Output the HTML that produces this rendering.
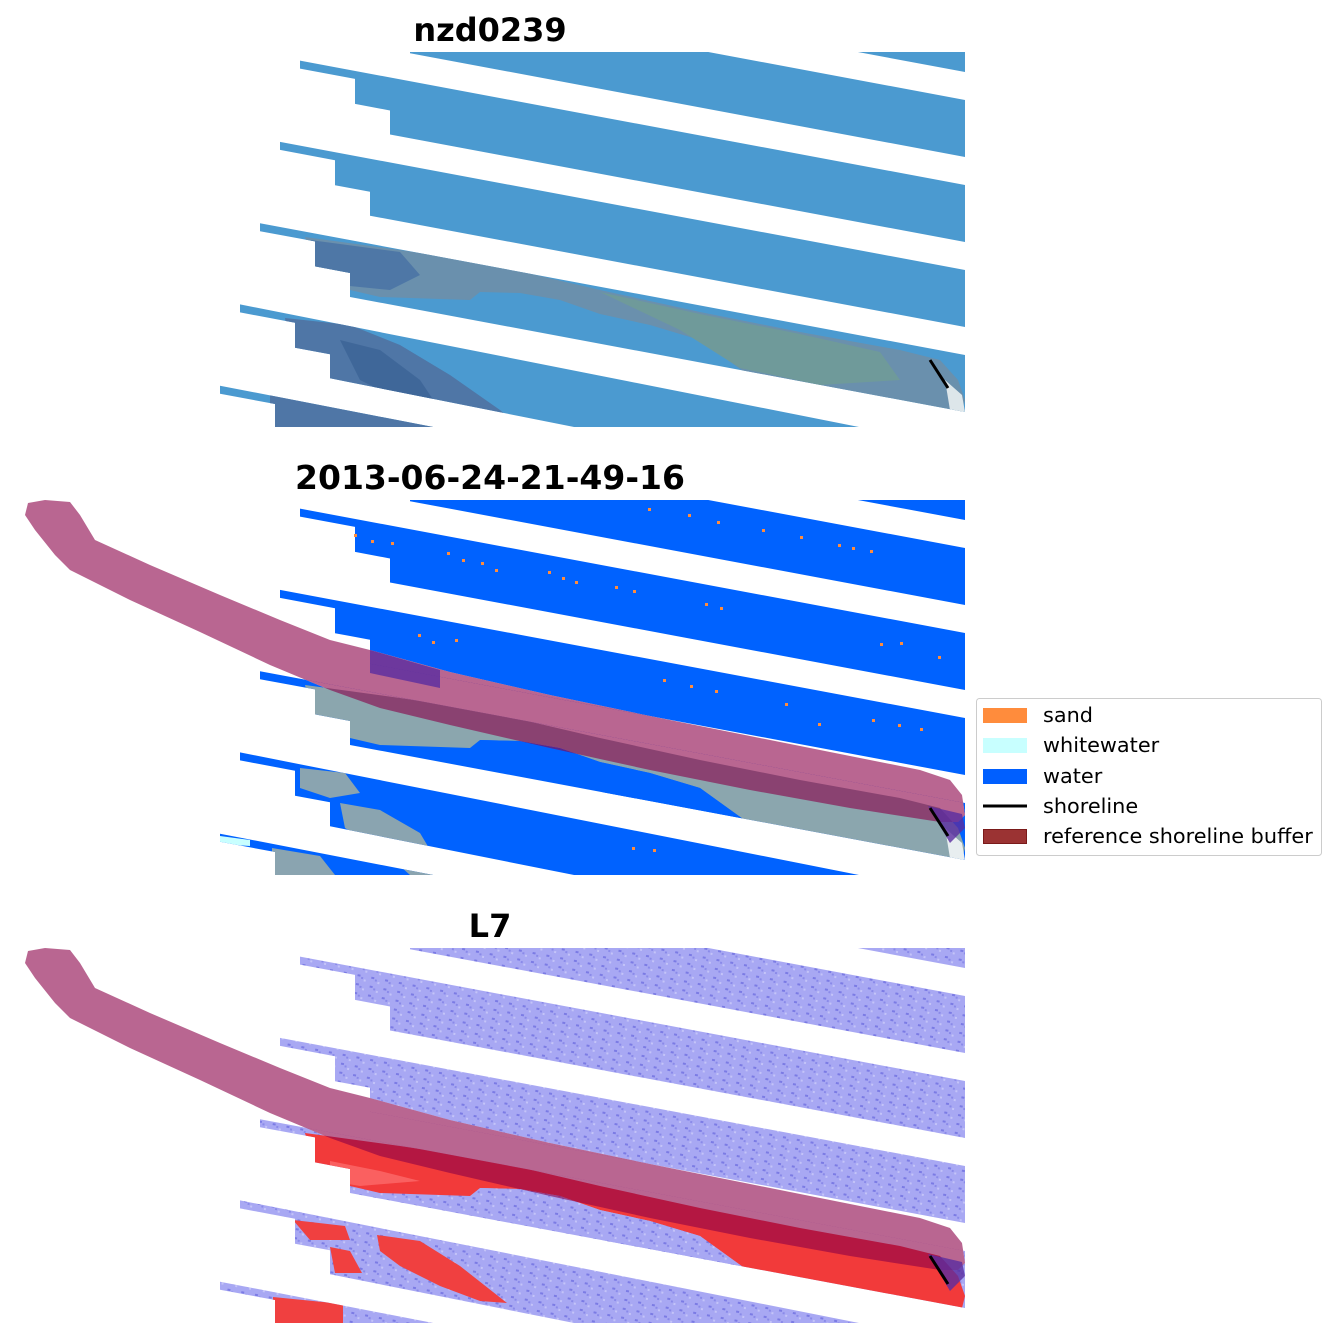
<!DOCTYPE html>
<html><head><meta charset="utf-8"><style>
html,body{margin:0;padding:0;background:#fff;}
svg{display:block;}
text{font-family:"DejaVu Sans","Liberation Sans",sans-serif;}
</style></head><body>
<svg width="1336" height="1337" viewBox="0 0 1336 1337" xmlns="http://www.w3.org/2000/svg">
<defs>
<clipPath id="rect"><rect x="220" y="52" width="745" height="375"/></clipPath>
<clipPath id="bands">
<polygon points="220,-124 965,15 965,72 220,-67"/>
<polygon points="320,-20.6 965,100 965,157 410,53.2 410,29.2 375,22.7 375,-2.3 320,-12.6"/>
<polygon points="300,60.6 965,185 965,242 390,134.5 390,110.5 355,103.9 355,78.9 300,68.6"/>
<polygon points="280,141.9 965,270 965,327 370,215.7 370,191.7 335,185.2 335,160.2 280,149.9"/>
<polygon points="260,223.2 965,355 965,412 350,297 350,273 315,266.4 315,241.4 260,231.2"/>
<polygon points="240,304.4 965,448 965,505 330,378.3 330,354.3 295,347.7 295,322.7 240,312.4"/>
<polygon points="220,385.7 965,530 965,587 310,459.5 310,435.5 275,429 275,404 220,393.7"/>
</clipPath>
<path id="buf" d="M45,52 L70,54 L80,67 L95,92 L150,117 L220,147 L280,172 L330,192 L370,202 L450,224 L550,247 L650,268 L750,288 L850,308 L920,322 L950,332 L962,347 L965,367 L958,374 L940,374 L850,360 L750,342 L650,322 L550,300 L450,277 L380,260 L330,242 L270,217 L200,184 L130,152 L70,122 L55,107 L35,82 L25,67 L28,55 Z"/>
<polygon id="landA" points="305,237 400,250 480,262 600,290 700,312 800,332 900,350 940,360 958,380 965,400 962,412 930,410 850,400 743,371 700,340 650,325 600,314 560,300 520,293 480,292 470,300 380,297 350,290 315,275"/>
<pattern id="noise" width="14" height="9" patternUnits="userSpaceOnUse" patternTransform="rotate(10.6)">
<rect width="14" height="9" fill="#a8a8f3"/>
<rect x="2" y="2" width="3" height="2" fill="#7b7be4"/>
<rect x="9" y="6" width="2" height="2" fill="#c4c4f8"/>
<rect x="6" y="4" width="2" height="2" fill="#8a8ae9"/>
</pattern>
</defs>

<text x="490" y="41" font-size="32" font-weight="bold" text-anchor="middle">nzd0239</text>
<text x="490" y="489" font-size="33" font-weight="bold" text-anchor="middle">2013-06-24-21-49-16</text>
<text x="490" y="937" font-size="32" font-weight="bold" text-anchor="middle">L7</text>

<!-- panel 1 -->
<g clip-path="url(#rect)"><g clip-path="url(#bands)">
<rect x="200" y="0" width="800" height="440" fill="#4b9ad0"/>
<use href="#landA" fill="#6a90ad"/>
<polygon points="310,240 400,252 420,275 390,290 340,285 315,270" fill="#4e77a6"/>
<polygon points="600,292 700,314 800,334 880,352 900,380 820,385 740,368 680,330" fill="#6f9a9a"/>
<polygon points="285,318 350,325 400,345 450,375 500,410 520,427 270,427 270,390 300,390 290,350" fill="#4f76a6"/>
<polygon points="340,340 380,350 420,380 440,410 400,400 360,380" fill="#3f6799"/>
<polygon points="945,380 962,395 965,412 950,410" fill="#dde6ea"/>
</g></g>
<line x1="930" y1="360" x2="948" y2="388" stroke="#000" stroke-width="3"/>

<!-- panel 2 -->
<g transform="translate(0,448)">
<g clip-path="url(#rect)"><g clip-path="url(#bands)">
<rect x="200" y="0" width="800" height="440" fill="#0062ff"/>
<use href="#buf" fill="#fff"/>
<use href="#landA" fill="#8ba6ae"/>
<polygon points="480,292 520,293 560,300 600,314 650,325 700,340 743,371 650,360 560,330 500,320" fill="#0062ff"/>
<polygon points="300,320 345,325 360,345 330,350 300,340" fill="#8aa4b0"/>
<polygon points="340,355 380,362 420,385 445,427 410,427 380,400 345,380" fill="#8aa4b0"/>
<polygon points="272,400 320,408 335,427 272,427" fill="#8aa4b0"/>
<polygon points="220,388 250,392 250,398 220,396" fill="#c8ffff"/>
<polygon points="945,380 962,395 965,412 950,410" fill="#e8eef0"/>
</g></g>
<use href="#buf" fill="rgb(138,0,72)" fill-opacity="0.6"/>
<polygon points="370,202 440,222 440,240 370,225" fill="#5a2da0" opacity="0.8"/>
<polygon points="928,358 962,366 965,380 950,395" fill="#5a2da0" opacity="0.8"/>
<line x1="930" y1="360" x2="948" y2="388" stroke="#000" stroke-width="3"/>
</g>
<g fill="#ff8c3c">
<rect x="354" y="534" width="3" height="3"/><rect x="371" y="540" width="3" height="3"/><rect x="391" y="542" width="3" height="3"/>
<rect x="447" y="552" width="3" height="3"/><rect x="462" y="559" width="3" height="3"/><rect x="481" y="562" width="3" height="3"/>
<rect x="495" y="569" width="3" height="3"/><rect x="548" y="571" width="3" height="3"/><rect x="562" y="577" width="3" height="3"/>
<rect x="575" y="581" width="3" height="3"/><rect x="615" y="586" width="3" height="3"/><rect x="633" y="590" width="3" height="3"/>
<rect x="648" y="508" width="3" height="3"/><rect x="688" y="514" width="3" height="3"/><rect x="717" y="521" width="3" height="3"/>
<rect x="762" y="529" width="3" height="3"/><rect x="800" y="536" width="3" height="3"/><rect x="838" y="544" width="3" height="3"/>
<rect x="852" y="547" width="3" height="3"/><rect x="870" y="550" width="3" height="3"/><rect x="418" y="634" width="3" height="3"/>
<rect x="432" y="641" width="3" height="3"/><rect x="455" y="639" width="3" height="3"/><rect x="663" y="679" width="3" height="3"/>
<rect x="690" y="685" width="3" height="3"/><rect x="715" y="690" width="3" height="3"/><rect x="785" y="703" width="3" height="3"/>
<rect x="818" y="723" width="3" height="3"/><rect x="872" y="719" width="3" height="3"/><rect x="898" y="724" width="3" height="3"/>
<rect x="920" y="728" width="3" height="3"/><rect x="632" y="847" width="3" height="3"/><rect x="653" y="849" width="3" height="3"/>
<rect x="880" y="643" width="3" height="3"/><rect x="900" y="642" width="3" height="3"/><rect x="938" y="656" width="3" height="3"/>
<rect x="705" y="603" width="3" height="3"/><rect x="720" y="607" width="3" height="3"/>
</g>

<!-- panel 3 -->
<g transform="translate(0,896)">
<g clip-path="url(#rect)"><g clip-path="url(#bands)">
<rect x="200" y="0" width="800" height="440" fill="url(#noise)"/>
<use href="#buf" fill="#fff"/>
<use href="#landA" fill="#f23a3a"/>
<polygon points="480,292 520,293 560,300 600,314 650,325 700,340 743,371 650,360 560,330 500,320" fill="url(#noise)"/>
<polygon points="293,324 345,330 350,344 310,344" fill="#f04040"/>
<polygon points="377,339 420,345 460,370 507,407 480,405 440,390 400,370 380,355" fill="#f04040"/>
<polygon points="330,351 350,355 362,377 335,377" fill="#f04040"/>
<polygon points="273,401 343,408 343,427 273,427" fill="#f04040"/>
<polygon points="330,265 380,275 420,285 360,290 330,285" fill="#ff7a7a" opacity="0.6"/>
</g></g>
<use href="#buf" fill="rgb(138,0,72)" fill-opacity="0.6"/>
<polygon points="928,358 962,366 965,380 950,395" fill="#5a2da0" opacity="0.8"/>
<line x1="930" y1="360" x2="948" y2="388" stroke="#000" stroke-width="3"/>
</g>

<!-- legend -->
<rect x="976.5" y="698.5" width="345" height="157" rx="3" fill="#fff" stroke="#cccccc" stroke-width="1"/>
<rect x="983" y="708" width="44" height="15" fill="#ff8c3c"/>
<rect x="983" y="738" width="44" height="15" fill="#c8ffff"/>
<rect x="983" y="769" width="44" height="15" fill="#005fff"/>
<line x1="983" y1="806" x2="1027" y2="806" stroke="#000" stroke-width="3"/>
<rect x="983.5" y="829.5" width="43" height="14" fill="#9b3333" stroke="#7a1a1a"/>
<g font-size="20.8" fill="#000">
<text x="1043" y="722">sand</text>
<text x="1043" y="752">whitewater</text>
<text x="1043" y="783">water</text>
<text x="1043" y="813">shoreline</text>
<text x="1043" y="843">reference shoreline buffer</text>
</g>
</svg>
</body></html>
